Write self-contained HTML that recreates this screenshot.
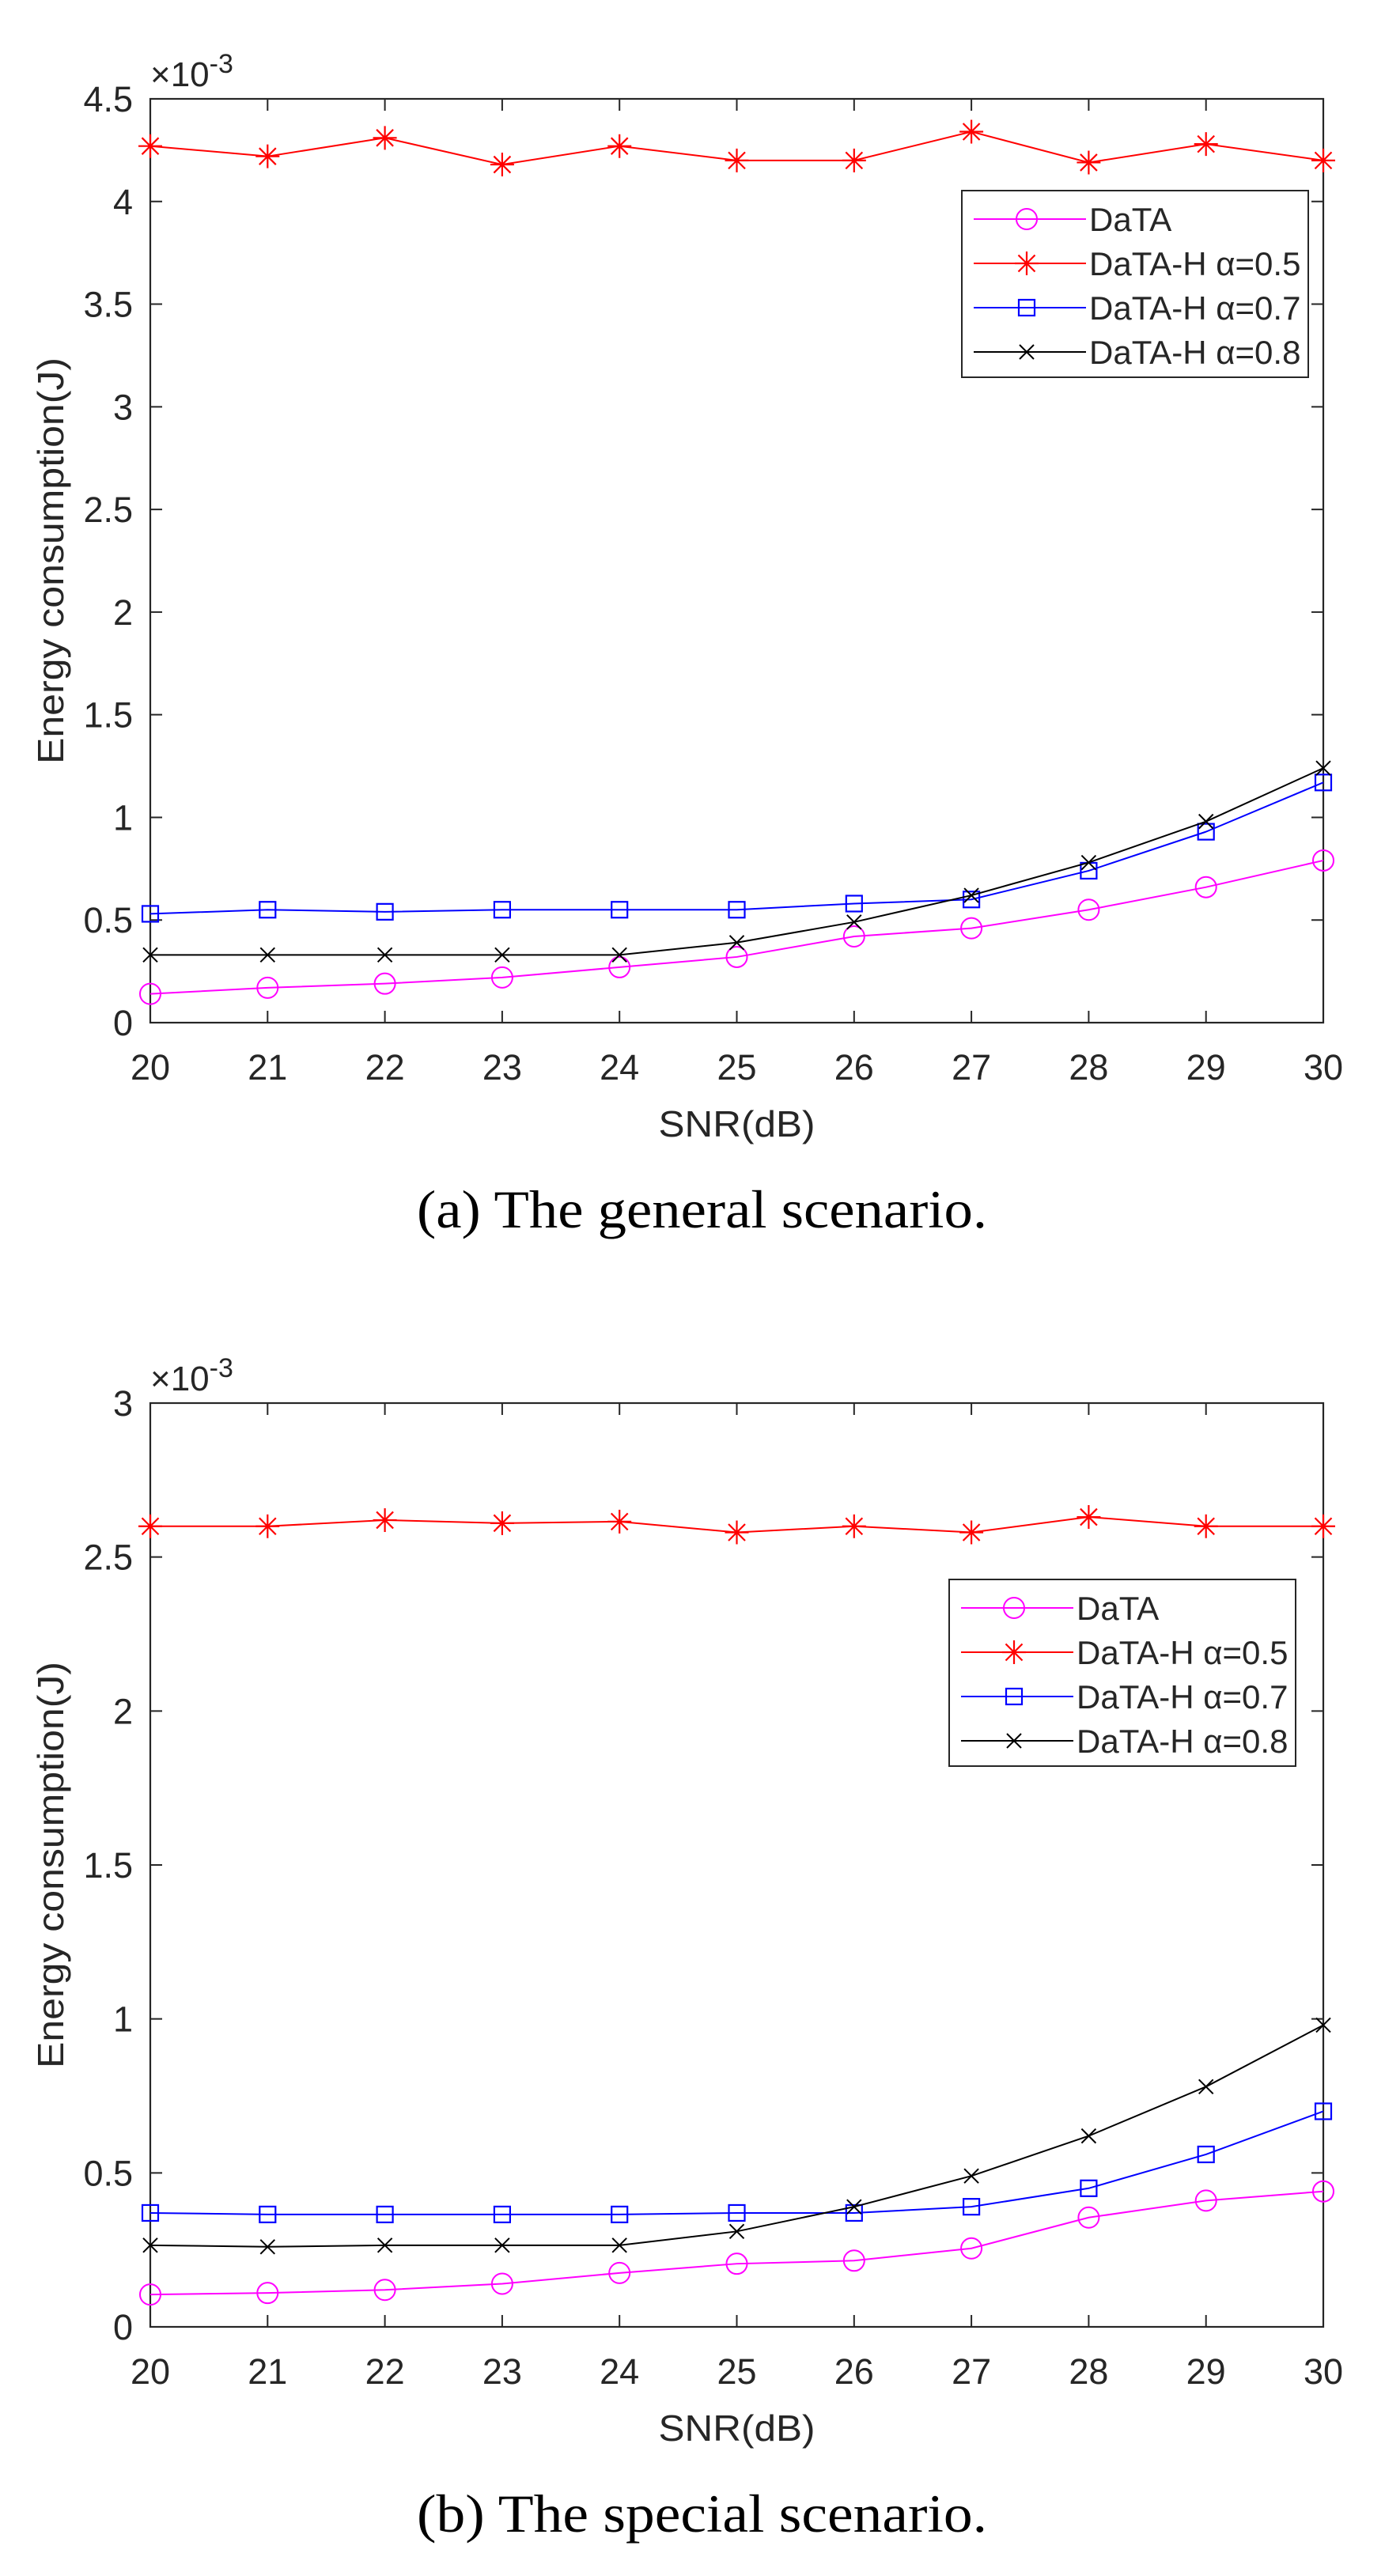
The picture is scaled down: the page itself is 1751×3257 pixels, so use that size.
<!DOCTYPE html>
<html><head><meta charset="utf-8"><style>
html,body{margin:0;padding:0;background:#fff;}
svg{display:block;}
</style></head><body>
<svg id="fig" width="1751" height="3257" viewBox="0 0 1751 3257" xmlns="http://www.w3.org/2000/svg"></svg>
<script>
const xCategories = [20,21,22,23,24,25,26,27,28,29,30];
const seriesNames = ["DaTA","DaTA-H α=0.5","DaTA-H α=0.7","DaTA-H α=0.8"];
const yTicksA = ["0","0.5","1","1.5","2","2.5","3","3.5","4","4.5"];
const yTickValsA = [0,0.5,1,1.5,2,2.5,3,3.5,4,4.5];
const yTicksB = ["0","0.5","1","1.5","2","2.5","3"];
const yTickValsB = [0,0.5,1,1.5,2,2.5,3];
const aData = [0.14,0.17,0.19,0.22,0.27,0.32,0.42,0.46,0.55,0.66,0.79];
const aH05 = [4.27,4.22,4.31,4.18,4.27,4.20,4.20,4.34,4.19,4.28,4.20];
const aH07 = [0.53,0.55,0.54,0.55,0.55,0.55,0.58,0.60,0.74,0.93,1.17];
const aH08 = [0.33,0.33,0.33,0.33,0.33,0.39,0.49,0.62,0.78,0.98,1.24];
const bData = [0.105,0.11,0.12,0.14,0.175,0.205,0.215,0.255,0.355,0.41,0.44];
const bH05 = [2.60,2.60,2.62,2.61,2.615,2.58,2.60,2.58,2.63,2.60,2.60];
const bH07 = [0.37,0.365,0.365,0.365,0.365,0.37,0.37,0.39,0.45,0.56,0.70];
const bH08 = [0.265,0.26,0.265,0.265,0.265,0.31,0.39,0.49,0.62,0.78,0.98];

const NS="http://www.w3.org/2000/svg";
const svg=document.getElementById('fig');
function mk(tag,attrs,parent){const e=document.createElementNS(NS,tag);for(const k in attrs)e.setAttribute(k,attrs[k]);(parent||svg).appendChild(e);return e;}
const FONT='"Liberation Sans", Arial, sans-serif';
const colors=["#ff00ff","#ff0000","#0000ff","#000000"];
const markers=["circle","star","square","x"];

function marker(g,type,cx,cy,col){
  if(type==="circle"){mk('circle',{cx:cx,cy:cy,r:13,fill:'none',stroke:col,'stroke-width':2},g);}
  else if(type==="square"){mk('rect',{x:cx-10,y:cy-10,width:20,height:20,fill:'none',stroke:col,'stroke-width':2.2},g);}
  else if(type==="x"){const r=9;mk('path',{d:`M${cx-r},${cy-r}L${cx+r},${cy+r}M${cx-r},${cy+r}L${cx+r},${cy-r}`,stroke:col,'stroke-width':2,fill:'none'},g);}
  else {const r=15,d=10.5;mk('path',{d:`M${cx},${cy-r}L${cx},${cy+r}M${cx-r},${cy}L${cx+r},${cy}M${cx-d},${cy-d}L${cx+d},${cy+d}M${cx-d},${cy+d}L${cx+d},${cy-d}`,stroke:col,'stroke-width':2.2,fill:'none'},g);}
}

function drawChart(off,ymax,tickLabels,tickVals,series,legTop,caption,name){
  const L=190,R=1673,T=125+off,B=1293+off;
  const xs=v=>L+(v-20)/(30-20)*(R-L);
  const ys=v=>B-v/ymax*(B-T);
  const g=mk('g',{});
  
  
  const ax=mk('rect',{x:L,y:T,width:R-L,height:B-T,fill:'none',stroke:'#262626','stroke-width':2.2},g);
  
  
  xCategories.forEach(v=>{
    const x=xs(v);
    mk('path',{d:`M${x},${B}L${x},${B-15}M${x},${T}L${x},${T+15}`,stroke:'#262626','stroke-width':2},g);
    const t=mk('text',{x:x,y:B+72,'text-anchor':'middle','font-family':FONT,'font-size':45,fill:'#262626'},g);
    t.textContent=v;
    
    
  });
  tickVals.forEach((v,i)=>{
    const y=ys(v);
    mk('path',{d:`M${L},${y}L${L+15},${y}M${R},${y}L${R-15},${y}`,stroke:'#262626','stroke-width':2},g);
    const t=mk('text',{x:168,y:y+16,'text-anchor':'end','font-family':FONT,'font-size':45,fill:'#262626'},g);
    t.textContent=tickLabels[i];
    
    
  });
  const ex=mk('text',{x:190,y:T-16,'font-family':FONT,'font-size':44,fill:'#262626'},g);
  ex.innerHTML='×10<tspan dy="-17" font-size="34">-3</tspan>';
  
  
  const yl=mk('text',{x:0,y:0,transform:`translate(80,${(T+B)/2}) rotate(-90)`,'text-anchor':'middle','font-family':FONT,'font-size':46,fill:'#262626',textLength:514,lengthAdjust:'spacingAndGlyphs'},g);
  yl.textContent='Energy consumption(J)';
  
  
  const xl=mk('text',{x:(L+R)/2,y:B+144,'text-anchor':'middle','font-family':FONT,'font-size':46,fill:'#262626',textLength:198,lengthAdjust:'spacingAndGlyphs'},g);
  xl.textContent='SNR(dB)';
  
  
  series.forEach((vals,si)=>{
    const sg=mk('g',{},g);
    
    
    const pts=vals.map((v,i)=>xs(xCategories[i])+','+ys(v)).join(' ');
    mk('polyline',{points:pts,fill:'none',stroke:colors[si],'stroke-width':2},sg);
    vals.forEach((v,i)=>marker(sg,markers[si],xs(xCategories[i]),ys(v),colors[si]));
  });
  const lg=mk('g',{},g);
  
  
  const lx=legTop[0],ly=legTop[1]+off;
  mk('rect',{x:lx,y:ly,width:438,height:236,fill:'#fff',stroke:'#262626','stroke-width':2},lg);
  seriesNames.forEach((n,i)=>{
    const cy=ly+36+i*56;
    const e=mk('g',{},lg);
    
    
    mk('path',{d:`M${lx+15},${cy}L${lx+157},${cy}`,stroke:colors[i],'stroke-width':2},e);
    marker(e,markers[i],lx+82,cy,colors[i]);
    const t=mk('text',{x:lx+161,y:cy+15,'font-family':FONT,'font-size':42,fill:'#262626'},e);
    t.textContent=n;
  });
  const cap=mk('text',{x:527,y:1552+off,'font-family':'"Liberation Serif", serif','font-size':68,fill:'#000',textLength:721,lengthAdjust:'spacingAndGlyphs'},g);
  cap.textContent=caption;
  
  
}
drawChart(0,4.5,yTicksA,yTickValsA,[aData,aH05,aH07,aH08],[1216,241],'(a)  The general scenario.','chart-general-scenario');
drawChart(1649,3,yTicksB,yTickValsB,[bData,bH05,bH07,bH08],[1200,348],'(b)  The special scenario.','chart-special-scenario');
</script>
</body></html>
